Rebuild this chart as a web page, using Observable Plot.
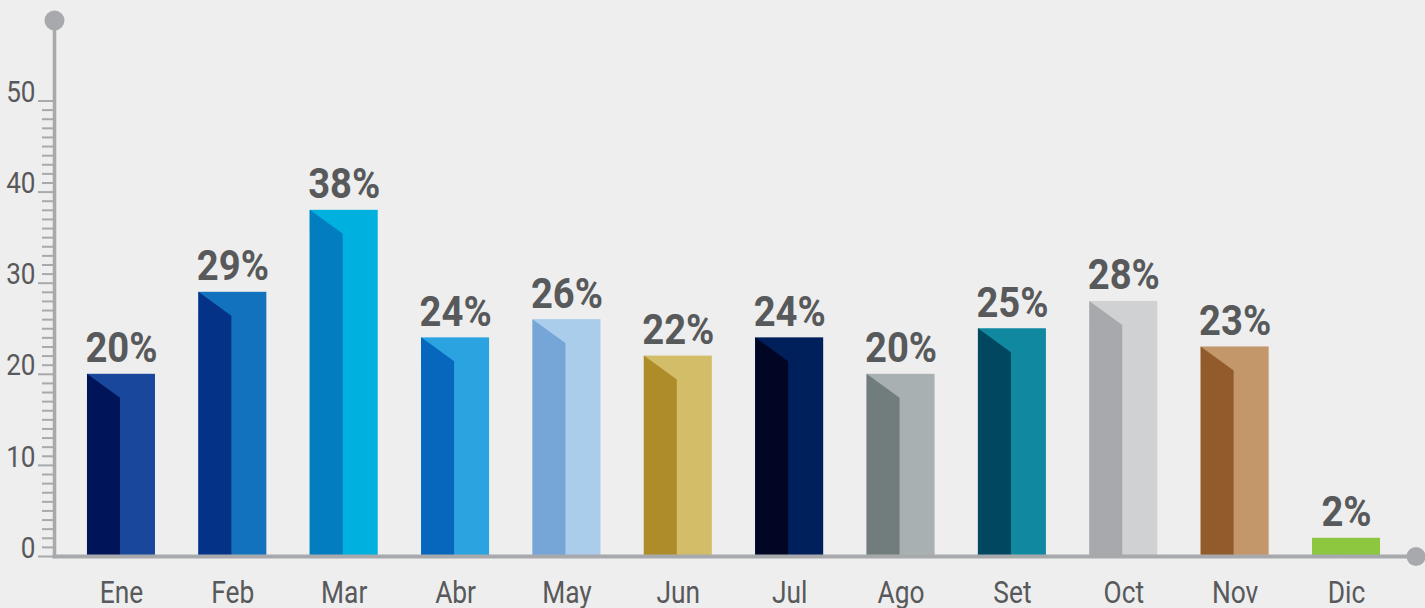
<!DOCTYPE html>
<html><head><meta charset="utf-8">
<script src="https://cdn.jsdelivr.net/npm/d3@7"></script>
<script src="https://cdn.jsdelivr.net/npm/@observablehq/plot@0.6"></script>
<style>html,body{margin:0;padding:0;background:#eeeeee;overflow:hidden}</style>
</head><body><div id="chart"></div>
<script>
const months = ["Ene","Feb","Mar","Abr","May","Jun","Jul","Ago","Set","Oct","Nov","Dic"];
const values = [20, 29, 38, 24, 26, 22, 24, 20, 25, 28, 23, 2];
const darkColors  = ["#001459","#043287","#017dc0","#0667bd","#76a5d8","#ae8c2a","#000624","#717c7c","#00475f","#a8a9ad","#915b2c","#8dc63f"];
const lightColors = ["#19479c","#1272bd","#00b1e0","#2ba3e0","#abcdec","#d3bd69","#00205b","#a8b0b1","#0f88a0","#d0d1d3","#c3976a","#8dc63f"];
const yMajorTicks = [0, 10, 20, 30, 40, 50];
const yMinorTicks = d3.range(0, 51).filter(v => v % 10 !== 0);

const HALF = 0.3053, SPLIT = 0.009, DEPTH = 2.63;
const GRAY = "#a7a9ac", TEXT = "#58595b";

const rows = months.map((m, i) => ({i, m, v: values[i], dark: darkColors[i], light: lightColors[i]}));
const faces = rows.flatMap(d => [
  {i: d.i, x: d.i - HALF, y: d.v, fill: d.dark},
  {i: d.i, x: d.i - SPLIT, y: Math.max(0, d.v - DEPTH), fill: d.dark}
]);

const chart = Plot.plot({
  width: 1425,
  height: 608,
  marginLeft: 54,
  marginRight: 9.5,
  marginTop: 20,
  marginBottom: 52,
  style: {background: "#eeeeee", fontFamily: "Roboto", overflow: "visible"},
  x: {domain: [-0.5, 11.5], range: [65.3, 1401.7], label: null},
  y: {domain: [0, 50], range: [556, 100.5], label: null},
  color: {type: "identity"},
  marks: [
    Plot.rect(rows, {x1: d => d.i - HALF, x2: d => d.i + HALF, y1: 0, y2: "v", fill: "light"}),
    Plot.area(faces, {x1: "x", y1: 0, y2: "y", z: "i", fill: "fill"}),
    Plot.text(rows, {x: "i", y: "v", text: d => `${d.v}%`, dy: -25.4, fontSize: 42, fontWeight: 700, fill: TEXT}),
    Plot.axisY({ticks: yMinorTicks, tickSize: 12, stroke: GRAY, strokeWidth: 2, fill: "none", tickFormat: () => ""}),
    Plot.axisY({ticks: yMajorTicks, tickSize: 16, stroke: GRAY, strokeWidth: 2, fill: "none", tickFormat: () => ""}),
    Plot.axisY({ticks: yMajorTicks, tickSize: 16, tickPadding: 3, stroke: "none", fill: TEXT, fontSize: 30, dy: -8.5}),
    Plot.axisX({ticks: d3.range(12), tickFormat: i => months[i], tickSize: 0, tickPadding: 24, fill: TEXT, fontSize: 31}),
    Plot.frame({anchor: "left", stroke: GRAY, strokeWidth: 3.5}),
    Plot.frame({anchor: "bottom", stroke: GRAY, strokeWidth: 4}),
    Plot.dot([0], {frameAnchor: "top-left", r: 10, fill: GRAY}),
    Plot.dot([0], {frameAnchor: "bottom-right", r: 9.5, fill: GRAY})
  ]
});

function squeeze(svg) {
  svg.querySelectorAll("text").forEach(t => {
    const g = t.closest("g[aria-label]");
    const lab = g ? g.getAttribute("aria-label") : "";
    let s;
    if (lab.includes("x-axis")) s = 0.85;
    else if (lab.includes("y-axis")) s = 0.87;
    else s = 0.91;
    const tr = t.getAttribute("transform");
    if (tr) {
      t.setAttribute("transform", tr + ` scale(${s},1)`);
    } else {
      const x = t.getAttribute("x") || 0, y = t.getAttribute("y") || 0;
      t.removeAttribute("x"); t.removeAttribute("y");
      t.setAttribute("transform", `translate(${x},${y}) scale(${s},1)`);
    }
  });
}
squeeze(chart);
document.getElementById("chart").appendChild(chart);
</script>
</body></html>
